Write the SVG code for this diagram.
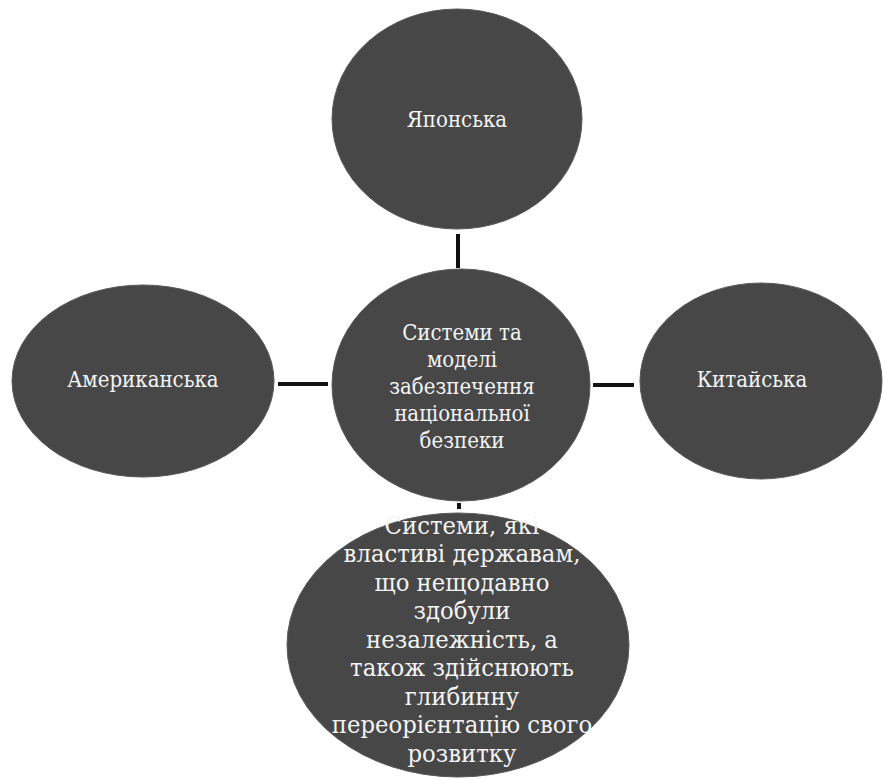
<svg xmlns="http://www.w3.org/2000/svg" width="883" height="780" viewBox="0 0 883 780">
<style>
.node{fill:#474747;stroke:#5a5a5a;stroke-width:1}
.t{font-family:'DejaVu Serif',serif;fill:#f4f4f4;text-anchor:middle;font-size:22px}
.tb{font-size:24px}
.c{stroke:#111;stroke-width:4;fill:none}
</style>
<rect width="883" height="780" fill="#ffffff"/>
<g id="connectors">
<line class="c" x1="458" y1="234" x2="458" y2="268"/>
<line class="c" x1="278" y1="384" x2="328" y2="384"/>
<line class="c" x1="593" y1="385" x2="634" y2="385"/>
<line class="c" x1="459" y1="503" x2="459" y2="509"/>
</g>
<g id="japanese">
<ellipse class="node" cx="457" cy="119" rx="125" ry="110"/>
<g transform="translate(457 0) scale(0.9 1)">
<text class="t" x="0" y="127">Японська</text>
</g>
</g>
<g id="center">
<ellipse class="node" cx="461" cy="385" rx="129" ry="116"/>
<g transform="translate(462 0) scale(0.9 1)">
<text class="t" x="0" y="340">Системи та</text>
<text class="t" x="0" y="367">моделі</text>
<text class="t" x="0" y="394">забезпечення</text>
<text class="t" x="0" y="421">національної</text>
<text class="t" x="0" y="448">безпеки</text>
</g>
</g>
<g id="american">
<ellipse class="node" cx="143" cy="381" rx="131" ry="96"/>
<g transform="translate(143 0) scale(0.9 1)">
<text class="t" x="0" y="387">Американська</text>
</g>
</g>
<g id="chinese">
<ellipse class="node" cx="761" cy="381" rx="121" ry="98"/>
<g transform="translate(752 0) scale(0.9 1)">
<text class="t" x="0" y="387">Китайська</text>
</g>
</g>
<g id="new-states">
<ellipse class="node" cx="458" cy="645" rx="171" ry="132"/>
<g transform="translate(462 0) scale(0.95 1)">
<text class="t tb" x="0" y="534">Системи, які</text>
<text class="t tb" x="0" y="562.5">властиві державам,</text>
<text class="t tb" x="0" y="591">що нещодавно</text>
<text class="t tb" x="0" y="619.5">здобули</text>
<text class="t tb" x="0" y="648">незалежність, а</text>
<text class="t tb" x="0" y="676.5">також здійснюють</text>
<text class="t tb" x="0" y="705">глибинну</text>
<text class="t tb" x="0" y="733.5">переорієнтацію свого</text>
<text class="t tb" x="0" y="762">розвитку</text>
</g>
</g>
</svg>
